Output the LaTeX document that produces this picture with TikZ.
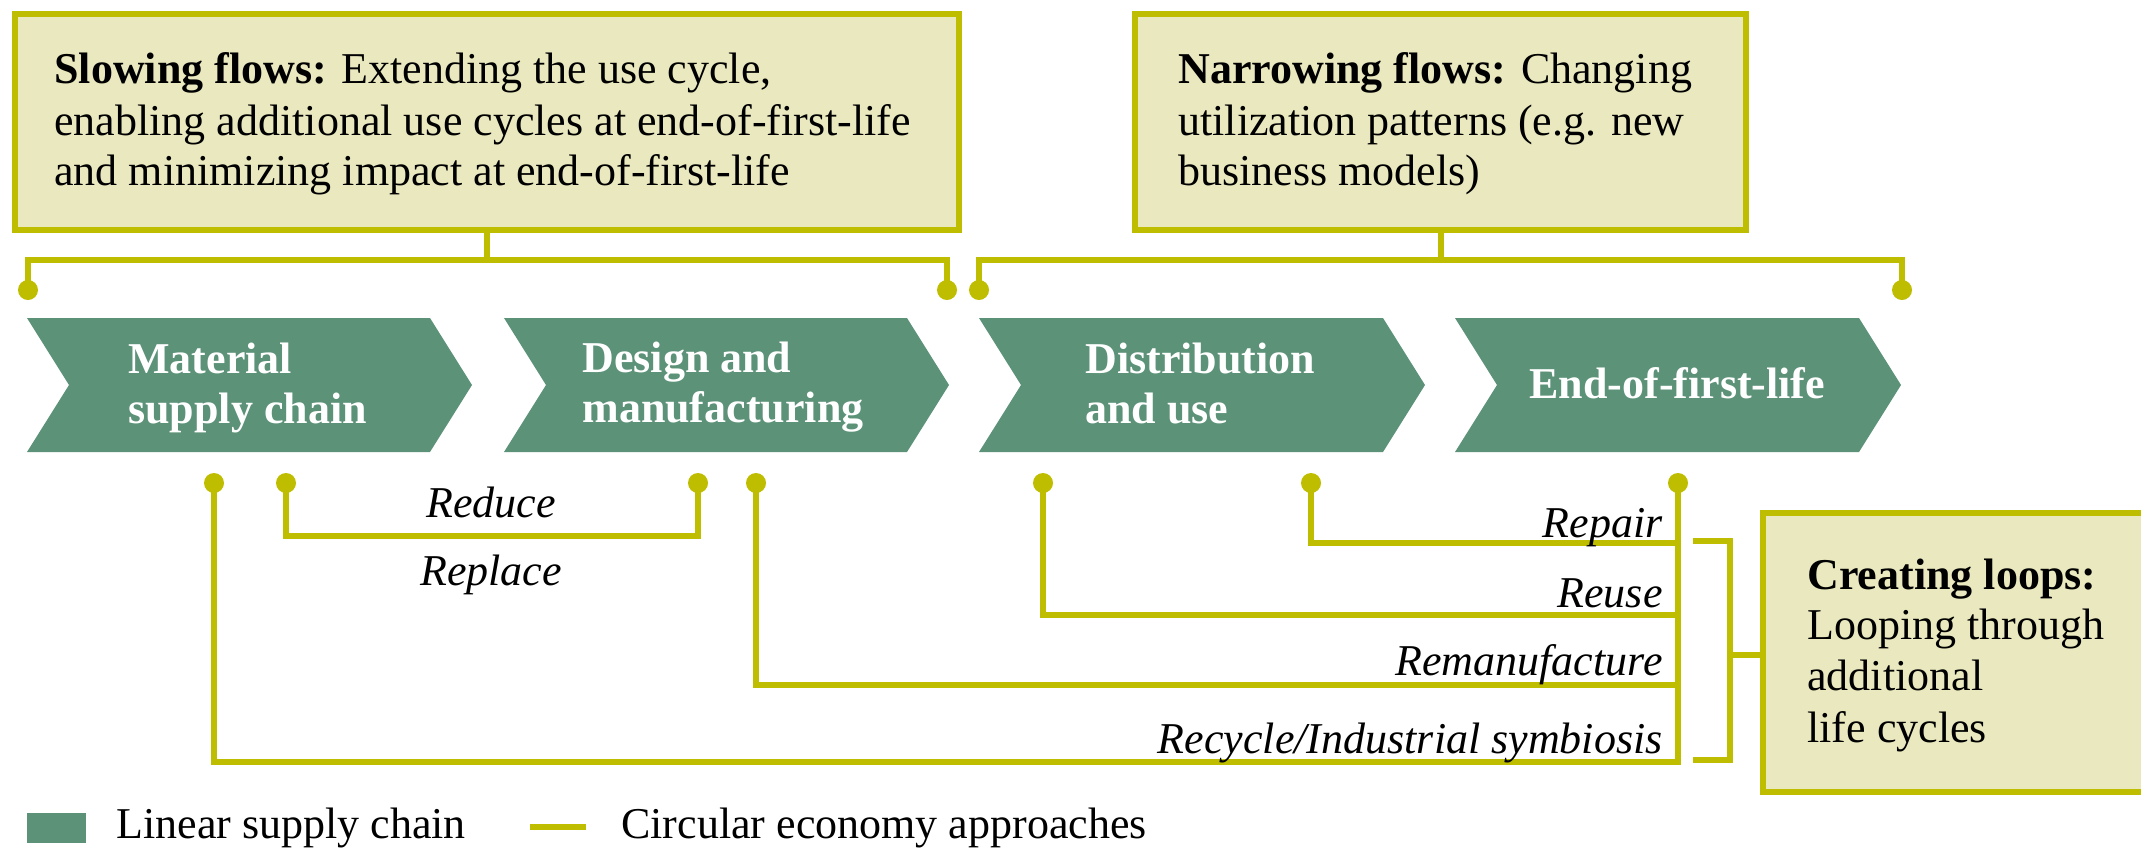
\documentclass[tikz,border=0pt]{standalone}
\usepackage{fontspec}
\setmainfont{Liberation Serif}
\definecolor{cgreen}{HTML}{5C9278}
\definecolor{olive}{HTML}{BFBD00}
\definecolor{boxfill}{HTML}{EAE8BE}
\begin{document}
\begin{tikzpicture}[x=0.5pt,y=-0.5pt,
  line/.style={draw=olive,line width=3pt},
  box/.style={draw=olive,fill=boxfill,line width=3pt,inner sep=0pt},
  dot/.style={circle,fill=olive,inner sep=0pt,minimum size=10pt},
  txt/.style={anchor=base west,inner sep=0pt,font=\fontsize{22}{26}\selectfont},
  ctxt/.style={anchor=base west,inner sep=0pt,text=white,font=\fontsize{22}{26}\selectfont\bfseries},
  labr/.style={anchor=base east,inner sep=0pt,font=\fontsize{22}{26}\selectfont\itshape},
  labc/.style={anchor=base,inner sep=0pt,font=\fontsize{22}{26}\selectfont\itshape},
  chev/.style={fill=cgreen}
]
\clip (0,0) rectangle (2141,848);

% top boxes
\node[box,minimum width=472pt,minimum height=108pt] (slow) at (487,122) {};
\node[box,minimum width=305.5pt,minimum height=108pt] (narrow) at (1440.5,122) {};
\node[txt] (s1) at (54,83) {\textbf{Slowing flows:} Extending the use cycle,};
\node[txt] (s2) at (54,135) {enabling additional use cycles at end-of-first-life};
\node[txt] (s3) at (54,185) {and minimizing impact at end-of-first-life};
\node[txt] (n1) at (1178,83) {\textbf{Narrowing flows:} Changing};
\node[txt] (n2) at (1178,135) {utilization patterns (e.g. new};
\node[txt] (n3) at (1178,185) {business models)};

% top brackets
\node[dot] (t1) at (28,290) {};
\node[dot] (t2) at (947,290) {};
\node[dot] (t3) at (979,290) {};
\node[dot] (t4) at (1902,290) {};
\draw[line] (slow.south) -- (slow.south |- 0,260);
\draw[line] (t1.center) -- ++(0,-30) -| (t2.center);
\draw[line] (narrow.south) -- (narrow.south |- 0,260);
\draw[line] (t3.center) -- ++(0,-30) -| (t4.center);

% chevrons
\path[chev] (27,318) -- (430,318) -- (472,385) -- (430,452) -- (27,452) -- (69,385) -- cycle;
\path[chev] (504,318) -- (907,318) -- (949,385) -- (907,452) -- (504,452) -- (546,385) -- cycle;
\path[chev] (979,318) -- (1383,318) -- (1425,385) -- (1383,452) -- (979,452) -- (1021,385) -- cycle;
\path[chev] (1455,318) -- (1859,318) -- (1901,385) -- (1859,452) -- (1455,452) -- (1497,385) -- cycle;
\node[ctxt] (c1a) at (128,373) {Material};
\node[ctxt] (c1b) at (128,423) {supply chain};
\node[ctxt] (c2a) at (582,372) {Design and};
\node[ctxt] (c2b) at (582,422) {manufacturing};
\node[ctxt] (c3a) at (1085,373) {Distribution};
\node[ctxt] (c3b) at (1085,423) {and use};
\node[ctxt] (c4) at (1529,398) {End-of-first-life};

% bottom loops
\node[dot] (b1) at (214,483) {};
\node[dot] (b2) at (286,483) {};
\node[dot] (b3) at (698,483) {};
\node[dot] (b4) at (756,483) {};
\node[dot] (b5) at (1043,483) {};
\node[dot] (b6) at (1311,483) {};
\node[dot] (b7) at (1678,483) {};
\draw[line] (b1.center) |- (b7.center |- 0,762) -- (b7.center);
\draw[line] (b2.center) -- ++(0,53) -| (b3.center);
\draw[line] (b4.center) |- (b7.center |- 0,685);
\draw[line] (b5.center) |- (b7.center |- 0,615);
\draw[line] (b6.center) |- (b7.center |- 0,543);

\node[labc] (reduce) at (491,517) {Reduce};
\node[labc] (replace) at (491,585) {Replace};
\node[labr] (repair) at (1663,537) {Repair};
\node[labr] (reuse) at (1663,607) {Reuse};
\node[labr] (reman) at (1663,675) {Remanufacture};
\node[labr] (recyc) at (1663,753) {Recycle/Industrial symbiosis};

% creating loops
\node[box,minimum width=208.5pt,minimum height=139.5pt] (loops) at (1971.5,652.5) {};
\coordinate (bt) at (1693,541);
\coordinate (bb) at (1693,760);
\coordinate (bm) at (1730,655);
\draw[line] (bt) -- ++(37,0) |- (bb);
\draw[line] (bm) -- (bm -| loops.west);
\node[txt] (l1) at (1807,589) {\textbf{Creating loops:}};
\node[txt] (l2) at (1807,639) {Looping through};
\node[txt] (l3) at (1807,690) {additional};
\node[txt] (l4) at (1807,742) {life cycles};

% legend
\node[fill=cgreen,minimum width=29.5pt,minimum height=15pt,inner sep=0pt] (lg1) at (56.5,828) {};
\node[txt] (lt1) at (116,838) {Linear supply chain};
\coordinate (ll1) at (530,827);
\coordinate (ll2) at (586,827);
\draw[line] (ll1) -- (ll2);
\node[txt] (lt2) at (621,838) {Circular economy approaches};
\end{tikzpicture}
\end{document}
